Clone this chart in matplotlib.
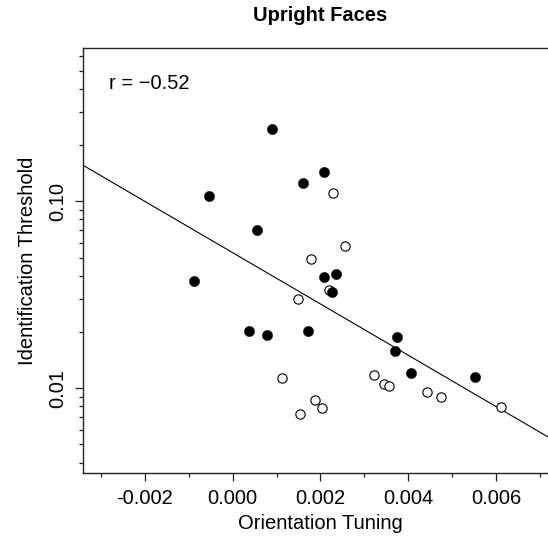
import numpy as np
import matplotlib
matplotlib.use('Agg')
import matplotlib.pyplot as plt
from matplotlib.ticker import FixedLocator, FixedFormatter, NullFormatter

plt.rcParams['font.family'] = ['Liberation Sans', 'DejaVu Sans']

# values
filled_x = [0.00090, 0.00208, 0.00160, -0.00054, 0.00055, 0.00208, 0.00235, -0.00088,
            0.00226, 0.00037, 0.00078, 0.00172, 0.00375, 0.00370, 0.00406, 0.00552]
filled_y = [0.2435, 0.1434, 0.1253, 0.1067, 0.0702, 0.0394, 0.0408, 0.0375,
            0.0327, 0.0202, 0.0193, 0.0202, 0.0188, 0.0158, 0.0121, 0.0115]
open_x = [0.00229, 0.00256, 0.00179, 0.00220, 0.00149, 0.00112, 0.00322, 0.00345,
          0.00356, 0.00443, 0.00475, 0.00188, 0.00204, 0.00153, 0.00612]
open_y = [0.1108, 0.0577, 0.0491, 0.0335, 0.0300, 0.01135, 0.01178, 0.01054,
          0.01029, 0.00955, 0.00898, 0.00866, 0.00785, 0.00729, 0.00794]

# regression line: log10(threshold) = fit_intercept + fit_slope * tuning
fit_intercept = -1.2753
fit_slope = -137.1
r_value = '\u22120.52'

x_major = [-0.002, 0.000, 0.002, 0.004, 0.006]
x_major_labels = ['-0.002', '0.000', '0.002', '0.004', '0.006']
x_minor = [-0.003, -0.001, 0.001, 0.003, 0.005, 0.007]
y_major = [0.01, 0.1]
y_major_labels = ['0.01', '0.10']
y_minor = [0.004, 0.005, 0.006, 0.007, 0.008, 0.009,
           0.02, 0.03, 0.04, 0.05, 0.06, 0.07, 0.08, 0.09,
           0.2, 0.3, 0.4, 0.5, 0.6]

fig = plt.figure(figsize=(5.48, 5.42), dpi=100)
ax = fig.add_axes([83 / 548, 1 - 473 / 542, 474 / 548, 425 / 542])

xlim = (-0.003412, 0.007391)
ax.set_xlim(*xlim)
ax.set_yscale('log')
ax.set_ylim(0.00352, 0.66)

xs = np.array(xlim)
ax.plot(xs, 10 ** (fit_intercept + fit_slope * xs), color='black', lw=0.8, zorder=2)

ax.plot(open_x, open_y, 'o', ms=6.7, mfc='white', mec='black', mew=0.8, zorder=3)
ax.plot(filled_x, filled_y, 'o', ms=7.4, mfc='black', mec='black', mew=0.3, zorder=4)

ax.xaxis.set_major_locator(FixedLocator(x_major))
ax.xaxis.set_major_formatter(FixedFormatter(x_major_labels))
ax.xaxis.set_minor_locator(FixedLocator(x_minor))
ax.yaxis.set_major_locator(FixedLocator(y_major))
ax.yaxis.set_major_formatter(FixedFormatter(y_major_labels))
ax.yaxis.set_minor_locator(FixedLocator(y_minor))
ax.yaxis.set_minor_formatter(NullFormatter())

ax.tick_params(which='major', length=6, width=0.9, color='#222222', labelsize=14.5, pad=5.3)
ax.tick_params(which='minor', length=2.8, width=0.9, color='#222222')
plt.setp(ax.get_yticklabels(), rotation=90, va='center')

for s in ax.spines.values():
    s.set_linewidth(1.0)
    s.set_color('#222222')

ax.set_title('Upright Faces', fontsize=14.5, fontweight='bold', pad=19.4)
ax.set_xlabel('Orientation Tuning', fontsize=14.5, va='baseline')
ax.xaxis.set_label_coords(0.5, -0.1318)
ax.set_ylabel('Identification Threshold', fontsize=14.5, va='baseline')
ax.yaxis.set_label_coords(-0.1049, 0.5)

ax.text(0.054, 0.9035, 'r = ' + r_value, transform=ax.transAxes, fontsize=14.5, va='baseline')

fig.savefig('out.png', dpi=100)
